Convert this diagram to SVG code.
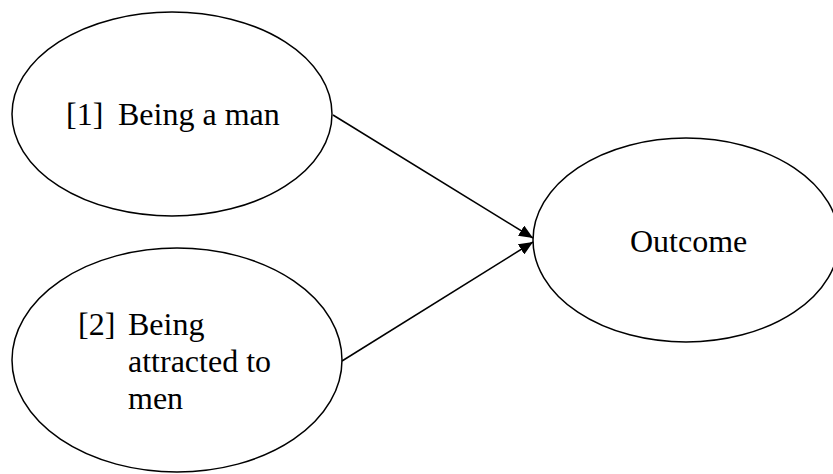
<svg xmlns="http://www.w3.org/2000/svg" width="833" height="474" viewBox="0 0 833 474">
<style>
.node{fill:#fff;stroke:#000;stroke-width:1.5}
.lbl{font-family:"Liberation Serif","Times New Roman",serif;font-size:32px;fill:#000}
.edge{stroke:#000;stroke-width:1.5;fill:none}
</style>
<defs>
<marker id="ah" viewBox="0 0 14 12" refX="14" refY="6" markerWidth="14" markerHeight="12" markerUnits="userSpaceOnUse" orient="auto">
<path d="M0,0 L14,6 L0,12 z" fill="#000"/>
</marker>
</defs>
<rect width="833" height="474" fill="#fff"/>
<g id="n1">
<ellipse class="node" cx="172" cy="114" rx="160" ry="102"/>
<text class="lbl" x="66" y="125">[1]</text>
<text class="lbl" x="118" y="125">Being a man</text>
</g>
<g id="n2">
<ellipse class="node" cx="177" cy="360" rx="165" ry="112"/>
<text class="lbl" x="78" y="335">[2]</text>
<text class="lbl" x="128" y="335">Being</text>
<text class="lbl" x="128" y="372">attracted to</text>
<text class="lbl" x="128" y="409">men</text>
</g>
<g id="n3">
<ellipse class="node" cx="686" cy="240" rx="153" ry="102"/>
<text class="lbl" x="630" y="252">Outcome</text>
</g>
<g id="edges">
<line class="edge" x1="333" y1="115" x2="533" y2="238" marker-end="url(#ah)"/>
<line class="edge" x1="342" y1="361" x2="533" y2="242" marker-end="url(#ah)"/>
</g>
</svg>
